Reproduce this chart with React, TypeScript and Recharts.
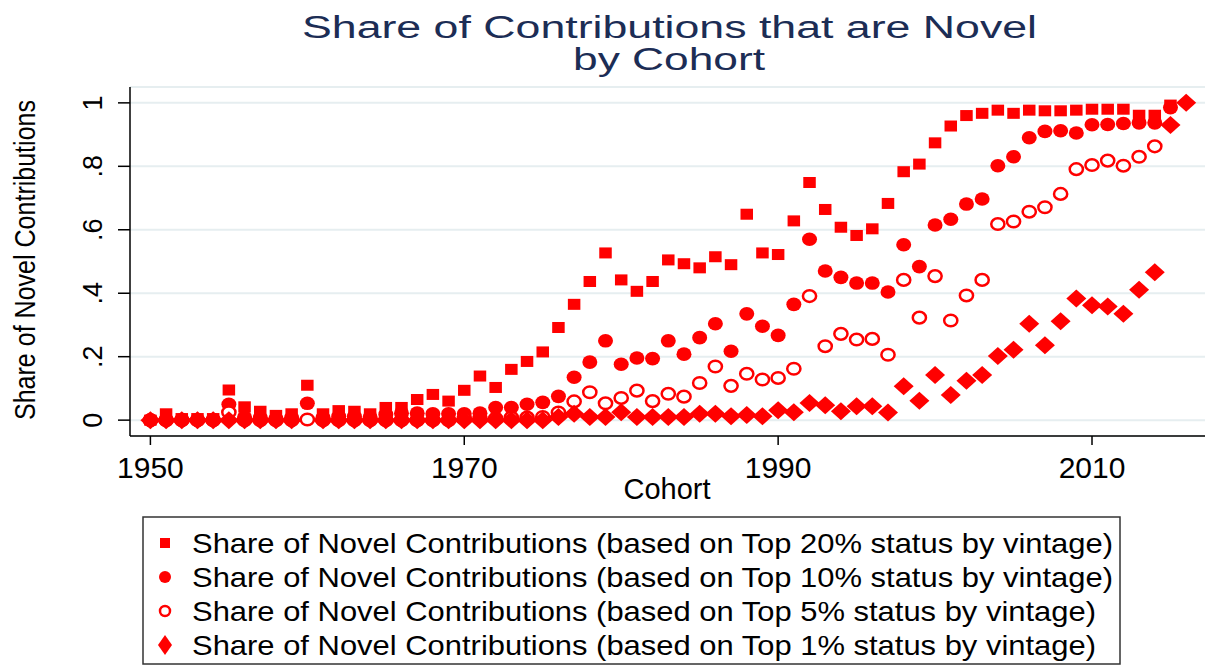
import { ScatterChart, Scatter, XAxis, YAxis, CartesianGrid } from 'recharts';

const FONT = '"Liberation Sans", Arial, Helvetica, sans-serif';
const RED = '#ff0000';

// cohort years
const years = [
  1950, 1951, 1952, 1953, 1954, 1955, 1956, 1957, 1958, 1959,
  1960, 1961, 1962, 1963, 1964, 1965, 1966, 1967, 1968, 1969,
  1970, 1971, 1972, 1973, 1974, 1975, 1976, 1977, 1978, 1979,
  1980, 1981, 1982, 1983, 1984, 1985, 1986, 1987, 1988, 1989,
  1990, 1991, 1992, 1993, 1994, 1995, 1996, 1997, 1998, 1999,
  2000, 2001, 2002, 2003, 2004, 2005, 2006, 2007, 2008, 2009,
  2010, 2011, 2012, 2013, 2014, 2015, 2016,
];

// Top 20% (squares)
const top20 = [
  0, 0.02, 0.005, 0.005, 0.005, 0.095, 0.042, 0.028, 0.015, 0.02,
  0.11, 0.02, 0.03, 0.028, 0.02, 0.04, 0.04, 0.065, 0.081, 0.06,
  0.094, 0.139, 0.103, 0.16, 0.185, 0.215, 0.292, 0.365, 0.437, 0.527,
  0.442, 0.406, 0.437, 0.505, 0.493, 0.48, 0.515, 0.49, 0.649, 0.527,
  0.522, 0.628, 0.749, 0.664, 0.608, 0.582, 0.603, 0.683, 0.783, 0.807,
  0.874, 0.927, 0.96, 0.967, 0.977, 0.967, 0.977, 0.975, 0.975, 0.977,
  0.98, 0.98, 0.98, 0.961, 0.961, 0.993, null,
];

// Top 10% (filled circles)
const top10 = [
  0, 0, 0, 0, 0, 0.05, 0.01, 0.008, 0.005, 0.008,
  0.053, 0.008, 0.012, 0.012, 0.01, 0.018, 0.022, 0.022, 0.02, 0.02,
  0.02, 0.022, 0.04, 0.04, 0.05, 0.056, 0.075, 0.135, 0.183, 0.25,
  0.176, 0.196, 0.194, 0.25, 0.208, 0.26, 0.304, 0.217, 0.335, 0.296,
  0.267, 0.365, 0.57, 0.47, 0.45, 0.432, 0.432, 0.404, 0.553, 0.484,
  0.615, 0.633, 0.681, 0.697, 0.802, 0.83, 0.89, 0.91, 0.912, 0.905,
  0.931, 0.932, 0.935, 0.937, 0.937, 0.985, null,
];

// Top 5% (hollow circles)
const top5 = [
  0, 0, 0, 0, 0, 0.025, 0, 0, 0, 0,
  0.002, 0, 0, 0, 0, 0, 0, 0, 0, 0,
  0.005, 0.005, 0.005, 0.008, 0.008, 0.01, 0.024, 0.059, 0.088, 0.053,
  0.07, 0.093, 0.06, 0.083, 0.074, 0.117, 0.169, 0.108, 0.146, 0.128,
  0.133, 0.162, 0.391, 0.233, 0.272, 0.254, 0.256, 0.206, 0.442, 0.323,
  0.454, 0.314, 0.393, 0.442, 0.618, 0.626, 0.657, 0.671, 0.713, 0.791,
  0.804, 0.818, 0.802, 0.83, 0.863, null, null,
];

// Top 1% (diamonds)
const top1 = [
  0, 0, 0, 0, 0, 0, 0, 0, 0, 0,
  null, 0, 0, 0, 0, 0, 0, 0, 0, 0,
  0, 0, 0, 0, 0, 0, 0.01, 0.02, 0.01, 0.01,
  0.025, 0.01, 0.01, 0.01, 0.01, 0.02, 0.02, 0.012, 0.016, 0.012,
  0.031, 0.025, 0.054, 0.047, 0.028, 0.044, 0.044, 0.024, 0.107, 0.061,
  0.142, 0.079, 0.124, 0.142, 0.202, 0.222, 0.304, 0.236, 0.312, 0.383,
  0.362, 0.358, 0.335, 0.411, 0.466, 0.93, 1.0,
];

const xTicks = [1950, 1970, 1990, 2010];
const yTicks = [0, 0.2, 0.4, 0.6, 0.8, 1];
const yTickLabels = ['0', '.2', '.4', '.6', '.8', '1'];

const legendLabels = [
  'Share of Novel Contributions (based on Top 20% status by vintage)',
  'Share of Novel Contributions (based on Top 10% status by vintage)',
  'Share of Novel Contributions (based on Top 5% status by vintage)',
  'Share of Novel Contributions (based on Top 1% status by vintage)',
];

function toPoints(vals: (number | null)[]) {
  return years
    .map((year, i) => ({ year, share: vals[i] }))
    .filter((p) => p.share !== null);
}

function Square({ cx, cy, w = 12.5, h = 11 }: any) {
  return <rect x={cx - w / 2} y={cy - h / 2} width={w} height={h} fill={RED} />;
}

function Dot({ cx, cy, rx = 7.5, ry = 6.8 }: any) {
  return <ellipse cx={cx} cy={cy} rx={rx} ry={ry} fill={RED} />;
}

function Ring({ cx, cy, rx = 6.6, ry = 5.8 }: any) {
  return <ellipse cx={cx} cy={cy} rx={rx} ry={ry} fill="#fff" stroke={RED} strokeWidth={2.5} />;
}

function Diamond({ cx, cy, hw = 10, hh = 9 }: any) {
  return (
    <polygon
      points={`${cx},${cy - hh} ${cx + hw},${cy} ${cx},${cy + hh} ${cx - hw},${cy}`}
      fill={RED}
    />
  );
}

function XTick({ x, y, payload }: any) {
  return (
    <text x={x} y={y + 31} textAnchor="middle" fontSize={30} fontFamily={FONT} fill="#000">
      {payload.value}
    </text>
  );
}

function YTick({ x, y, payload }: any) {
  const bx = x - 14;
  const label = yTickLabels[yTicks.indexOf(payload.value)];
  return (
    <text
      x={bx}
      y={y}
      transform={`rotate(-90 ${bx} ${y})`}
      textAnchor="middle"
      fontSize={27}
      fontFamily={FONT}
      fill="#000"
    >
      {label}
    </text>
  );
}

export default function App() {
  const legendMarkers = [
    (cx: number, cy: number) => <Square cx={cx} cy={cy} w={10} h={10} />,
    (cx: number, cy: number) => <Dot cx={cx} cy={cy} rx={6} ry={6} />,
    (cx: number, cy: number) => <Ring cx={cx} cy={cy} rx={5} ry={5} />,
    (cx: number, cy: number) => <Diamond cx={cx} cy={cy} hw={7} hh={10} />,
  ];
  const legendWidths = [921, 921, 904, 904];

  return (
    <div style={{ position: 'absolute', left: 0, top: 0, width: 1206, height: 669, background: '#fff' }}>
      <ScatterChart
        width={1206}
        height={669}
        margin={{ top: 87, right: 1, left: 0, bottom: 163 }}
        style={{ position: 'absolute', left: 0, top: 0 }}
      >
        <CartesianGrid vertical={false} stroke="#e6eef0" strokeWidth={2} />
        <XAxis
          type="number"
          dataKey="year"
          domain={[1948.7, 2017.2]}
          ticks={xTicks}
          allowDataOverflow
          height={70}
          tickSize={9}
          tickMargin={2}
          tick={<XTick />}
          axisLine={{ stroke: '#000', strokeWidth: 1.5 }}
          tickLine={{ stroke: '#000', strokeWidth: 1.5 }}
        />
        <YAxis
          type="number"
          dataKey="share"
          domain={[-0.05, 1.05]}
          ticks={yTicks}
          allowDataOverflow
          width={130}
          tickSize={12}
          tickMargin={2}
          tick={<YTick />}
          axisLine={{ stroke: '#000', strokeWidth: 1.5 }}
          tickLine={{ stroke: '#000', strokeWidth: 1.5 }}
        />
        <Scatter data={toPoints(top20)} shape={(p: any) => <Square cx={p.cx} cy={p.cy} />} isAnimationActive={false} />
        <Scatter data={toPoints(top10)} shape={(p: any) => <Dot cx={p.cx} cy={p.cy} />} isAnimationActive={false} />
        <Scatter data={toPoints(top5)} shape={(p: any) => <Ring cx={p.cx} cy={p.cy} />} isAnimationActive={false} />
        <Scatter data={toPoints(top1)} shape={(p: any) => <Diamond cx={p.cx} cy={p.cy} />} isAnimationActive={false} />
      </ScatterChart>

      <svg
        width={1206}
        height={669}
        style={{ position: 'absolute', left: 0, top: 0, pointerEvents: 'none' }}
        fontFamily={FONT}
      >
        <text x={669.5} y={38} textAnchor="middle" fontSize={31} fill="#1c2d55" textLength={735} lengthAdjust="spacingAndGlyphs">
          Share of Contributions that are Novel
        </text>
        <text x={669} y={70} textAnchor="middle" fontSize={31} fill="#1c2d55" textLength={192} lengthAdjust="spacingAndGlyphs">
          by Cohort
        </text>
        <text
          x={35}
          y={260}
          transform="rotate(-90 35 260)"
          textAnchor="middle"
          fontSize={29}
          fill="#000"
          textLength={320}
          lengthAdjust="spacingAndGlyphs"
        >
          Share of Novel Contributions
        </text>
        <text x={667} y={499} textAnchor="middle" fontSize={29} fill="#000">
          Cohort
        </text>

        <rect x={143} y={517} width={977} height={147} fill="#fff" stroke="#333" strokeWidth={1.5} />
        {legendLabels.map((label, i) => {
          const cy = 543 + i * 34;
          return (
            <g key={label}>
              {legendMarkers[i](165, cy)}
              <text
                x={192}
                y={cy + 10}
                fontSize={28}
                fill="#000"
                textLength={legendWidths[i]}
                lengthAdjust="spacingAndGlyphs"
              >
                {label}
              </text>
            </g>
          );
        })}
      </svg>
    </div>
  );
}
